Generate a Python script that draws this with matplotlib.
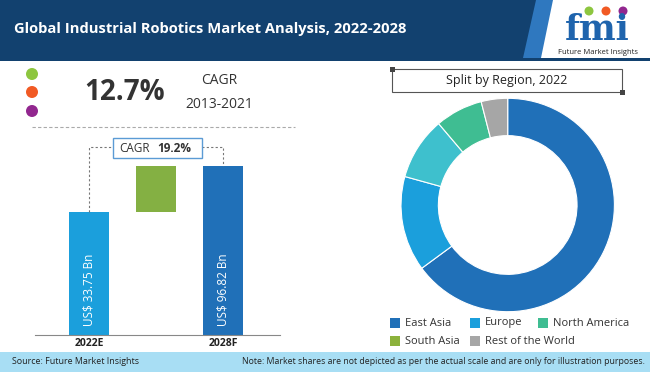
import matplotlib
matplotlib.use('Agg')
import matplotlib.pyplot as plt
from matplotlib.patches import Rectangle, Circle, Polygon

plt.rcParams['font.family'] = ['Open Sans', 'DejaVu Sans']

W, H = 650, 372

# ---- data ----
years = ['2022E', '2028F']
market_size = [33.75, 96.82]          # US$ Bn
bar_height = [73, 100]                # drawn heights (not to scale)
cagr_forecast = '19.2%'
cagr_hist = '12.7%'
hist_period = '2013-2021'

donut_labels = ['East Asia', 'Europe', 'South Asia', 'North America', 'Rest of the World']
donut_share = [64.9, 14.4, 9.5, 7.2, 4.0]
donut_colors = ['#2070b8', '#1b9fdc', '#3ec0cd', '#3fbd92', '#a6a6a6']

legend_labels = ['East Asia', 'Europe', 'North America', 'South Asia', 'Rest of the World']
legend_colors = ['#2070b8', '#1b9fdc', '#3fbd92', '#8cb23c', '#a6a6a6']

NAVY = '#12416f'
TXT = '#333333'

fig = plt.figure(figsize=(W / 100, H / 100), dpi=100)
fig.set_facecolor('white')


def px_axes(x0, y0, x1, y1, **kw):
    # axes from pixel box (top-left origin)
    return fig.add_axes([x0 / W, 1 - y1 / H, (x1 - x0) / W, (y1 - y0) / H], **kw)


# ---- overlay for the decorations ----
ov = px_axes(0, 0, W, H, zorder=3)
ov.set_xlim(0, W)
ov.set_ylim(H, 0)
ov.axis('off')
ov.patch.set_alpha(0)

# header
ov.add_patch(Rectangle((0, 0), W, 61, color=NAVY, lw=0))
ov.add_patch(Polygon([(536, 0), (556, 0), (544, 58), (523, 58)], color='#2f78bf', lw=0))
ov.add_patch(Polygon([(553, 0), (W, 0), (W, 58), (541, 58)], color='white', lw=0))
ov.text(14, 29, 'Global Industrial Robotics Market Analysis, 2022-2028', color='white',
        fontsize=10.6, fontweight='bold', va='center', ha='left')
# logo
ov.text(597, 40, 'fmi', family='DejaVu Serif', fontsize=25, fontweight='bold',
        color='#1f64ad', ha='center', va='baseline')
for cx, c in zip([589, 606, 623], ['#8dc63f', '#f15a24', '#92278f']):
    ov.add_patch(Circle((cx, 11), 4.5, color=c, lw=0))
ov.text(598, 52.5, 'Future Market Insights', fontsize=5.5, color='#222222',
        ha='center', va='center')

# footer
ov.add_patch(Rectangle((0, 352), W, 20, color='#a8def4', lw=0))
ov.text(12, 362, 'Source: Future Market Insights', fontsize=6.4, color='#222222', va='center')
ov.text(645, 362, 'Note: Market shares are not depicted as per the actual scale and are only '
        'for illustration purposes.', fontsize=6.3, color='#222222', va='center', ha='right')

# historical CAGR block
for cy, c in zip([74, 92, 111], ['#8dc63f', '#f15a24', '#92278f']):
    ov.add_patch(Circle((32, cy), 6, color=c, lw=0))
ov.text(125, 92, cagr_hist, fontsize=20, fontweight='bold', color=TXT, ha='center', va='center')
ov.text(219, 81, 'CAGR', fontsize=10, color=TXT, ha='center', va='center')
ov.text(219, 104, hist_period, fontsize=10, color=TXT, ha='center', va='center')
ov.plot([32, 295], [127, 127], color='#aaaaaa', lw=0.8, ls=(0, (3, 2)))

# forecast CAGR box
ov.add_patch(Rectangle((113, 138), 89, 20, facecolor='white', edgecolor='#5b9bd5', lw=1))
ov.text(119, 148, 'CAGR', fontsize=8.5, color=TXT, va='center', ha='left')
ov.text(157, 148, cagr_forecast, fontsize=8.5, fontweight='bold', color=TXT, va='center', ha='left')

# right panel title box
ov.add_patch(Rectangle((392, 69), 230, 23, facecolor='none', edgecolor='#555555', lw=0.8))
ov.add_patch(Rectangle((389.5, 66.5), 5, 5, color='#444444', lw=0))
ov.add_patch(Rectangle((619.5, 89.5), 5, 5, color='#444444', lw=0))
ov.text(507, 80.5, 'Split by Region, 2022', fontsize=9, color='#222222', ha='center', va='center')

# legend
leg_pos = [(390, 323), (470, 323), (538, 323), (390, 341), (470, 341)]
for (lx, ly), lab, col in zip(leg_pos, legend_labels, legend_colors):
    ov.add_patch(Rectangle((lx, ly - 5), 10, 10, color=col, lw=0))
    ov.text(lx + 15, ly, lab, fontsize=8, color=TXT, va='center', ha='left')

# ---- bar chart ----
ax = px_axes(35, 166, 280, 335, zorder=1)
step = 67.0
x0 = -54 / step
ax.set_xlim(x0, x0 + 245 / step)
ax.set_ylim(0, 100)
pos = [0, 2]
ax.bar(pos[0], bar_height[0], width=0.6, color='#1b9fdc')
ax.bar(1, bar_height[1] - bar_height[0], bottom=bar_height[0], width=0.6, color='#84b043')
ax.bar(pos[1], bar_height[1], width=0.6, color='#2070b8')
for p, v in zip(pos, market_size):
    ax.text(p, 27, f'US$ {v:.2f} Bn', rotation=90, color='white', fontsize=8.5,
            ha='center', va='center')
ax.plot([pos[0], pos[0], pos[1], pos[1]], [bar_height[0], 111, 111, bar_height[1]],
        color='#777777', lw=0.8, ls=(0, (2, 2)), clip_on=False)
ax.set_xticks(pos)
ax.set_xticklabels(years, fontsize=7.5, fontweight='bold', color='#222222')
ax.tick_params(axis='x', length=0, pad=2)
ax.set_yticks([])
for s in ['top', 'left', 'right']:
    ax.spines[s].set_visible(False)
ax.spines['bottom'].set_color('#888888')
ax.patch.set_alpha(0)

# ---- donut ----
cx, cy, r = 507.7, 205, 106.7
pa = px_axes(cx - r, cy - r, cx + r, cy + r, zorder=1)
pa.pie(donut_share, colors=donut_colors, startangle=90, counterclock=False,
       wedgeprops=dict(width=0.35, edgecolor='white', linewidth=0.8))
pa.set_xlim(-1, 1)
pa.set_ylim(-1, 1)
pa.set_aspect('equal')
pa.axis('off')

fig.savefig('out.png', dpi=100)
